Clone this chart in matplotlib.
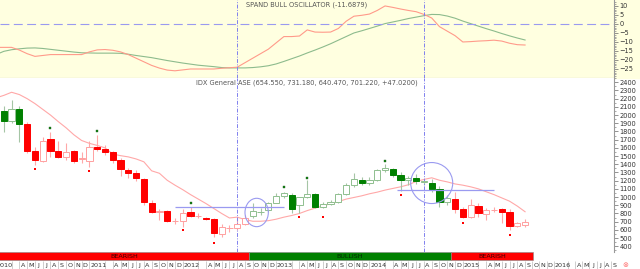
import numpy as np
import matplotlib.pyplot as plt
from matplotlib.patches import Ellipse, Rectangle

# monthly candles Jan 2010 .. Aug 2015 (plotted at month end)
opens  = [2054, 1928, 2074, 1891, 1562, 1440, 1708, 1566, 1492, 1562, 1470, 1440,
          1614, 1586, 1553, 1452, 1330, 1297, 1217, 931, 815, 830, 705, 708,
          821, 765, 748, 729, 549, 617, 619, 671, 773, 819, 842, 931,
          1013, 1025, 903, 997, 1037, 882, 915, 944, 1037, 1147, 1208, 1175,
          1208, 1330, 1342, 1270, 1210, 1230, 1187, 1175, 1095, 944, 973, 851,
          753, 891, 793, 842, 851, 821, 647, 655]
highs  = [2111, 2184, 2111, 1916, 1614, 1737, 1797, 1688, 1656, 1574, 1553, 1684,
          1757, 1635, 1560, 1473, 1351, 1330, 1229, 964, 851, 842, 741, 851,
          882, 802, 760, 741, 671, 659, 741, 781, 924, 863, 944, 1046,
          1066, 1046, 1005, 1207, 1046, 944, 964, 1046, 1168, 1290, 1241, 1241,
          1345, 1400, 1360, 1300, 1260, 1280, 1210, 1217, 1135, 1025, 1066, 882,
          973, 924, 863, 882, 863, 851, 700, 731]
lows   = [1797, 1900, 1675, 1537, 1391, 1428, 1492, 1476, 1452, 1415, 1419, 1370,
          1562, 1513, 1419, 1257, 1229, 1200, 903, 802, 720, 700, 671, 638,
          760, 741, 720, 509, 509, 577, 598, 659, 741, 781, 821, 924,
          985, 802, 802, 985, 863, 863, 903, 924, 1025, 1127, 1147, 1147,
          1190, 1300, 1240, 1080, 1150, 1160, 1150, 1066, 882, 903, 802, 741,
          741, 760, 720, 821, 680, 598, 638, 640]
closes = [1932, 2074, 1891, 1562, 1452, 1688, 1566, 1489, 1553, 1440, 1476, 1611,
          1586, 1546, 1452, 1339, 1297, 1229, 936, 821, 830, 708, 712, 809,
          773, 772, 729, 558, 638, 621, 671, 741, 834, 823, 931, 1013,
          1046, 851, 997, 1037, 882, 915, 944, 1037, 1147, 1217, 1175, 1208,
          1330, 1358, 1270, 1210, 1230, 1195, 1187, 1095, 944, 985, 851, 760,
          903, 802, 842, 842, 821, 647, 687, 701]
trend = "GGG" + "R" * 29 + "G" * 26 + "R" * 10

# moving average and oscillator, Dec 2009 .. Aug 2015
ma = [2210, 2240, 2278, 2250, 2200, 2140, 2070, 2000, 1920, 1845, 1760, 1690, 1655,
      1630, 1600, 1525, 1505, 1490, 1465, 1430, 1320, 1290, 1205, 1145, 1090,
      1030, 975, 920, 860, 800, 745, 755, 725, 705, 705, 712, 730,
      755, 775, 800, 835, 865, 890, 920, 945, 975, 995, 1015, 1040,
      1060, 1085, 1105, 1125, 1150, 1190, 1215, 1235, 1205, 1185, 1160, 1145,
      1125, 1100, 1065, 1030, 990, 950, 890, 821]
osc_fast = [-13, -13, -13, -14.5, -16.5, -18, -17.5, -17, -17, -17, -17, -17, -15.5,
            -14.4, -14.2, -14.6, -15.5, -17, -19, -21, -23, -24.5, -25.6, -26, -25.5,
            -25, -25, -25, -25, -24.6, -24.3, -24, -21.5, -19, -16.5, -14, -10.5,
            -7, -7, -6.7, -3.3, -4.5, -4.6, -4.5, -2.5, 1.5, 4.3, 4.8, 5.5,
            7.5, 10, 9.2, 8.3, 7.5, 6.8, 5.3, 3.3, -1.5, -4, -6.5, -10,
            -9.8, -9.5, -9.3, -9, -9.5, -10.7, -11.5, -11.69]
osc_slow = [-17, -15.2, -14.3, -13.8, -13.4, -13.3, -13.6, -14.1, -14.6, -15.1, -15.6, -16, -16.1,
            -16.2, -16.2, -16.2, -16.3, -16.8, -17.5, -18.1, -18.7, -19.5, -20.3, -21, -21.7,
            -22.3, -22.9, -23.3, -23.7, -24.2, -24.4, -24.4, -24.4, -24.2, -23.8, -23.2, -22.2,
            -20.8, -19.3, -17.8, -16.1, -14.5, -12.8, -11, -9, -7, -5, -3.8, -2.5,
            -1.2, 0.2, 1.1, 2, 3, 3.8, 4.6, 5.3, 5.2, 4.4, 3.2, 1.6,
            0.2, -1.2, -2.6, -3.9, -5.3, -6.6, -7.8, -8.9]

peak_idx = [6, 12, 24, 36, 39, 49]
peak_val = [1839, 1810, 924, 1119, 1236, 1440]
trough_idx = [4, 11, 23, 27, 38, 41, 51, 59, 65]
trough_val = [1342, 1321, 598, 445, 760, 760, 1025, 680, 537]

signals = [30, 54]
levels = [(22, 36, 878), (50.5, 63, 1092)]
circles = [(32.5, 812, 3.0, 346), (55.0, 1171, 5.4, 500)]
regimes = [("BEARISH", -1, 31.5, "#FF0000"), ("BULLISH", 31.5, 57.5, "#008000"),
           ("BEARISH", 57.5, 68.0, "#FF0000")]

n = len(closes)
xl = np.arange(-1, n)
XMIN, XMAX = -0.49, 78.43

fig = plt.figure(figsize=(6.4, 2.69), dpi=100)
# yellow band behind the oscillator, right margin included
fig.patches.append(Rectangle((0, 1 - 78 / 269), 1, 78 / 269, transform=fig.transFigure,
                             color="#FFFFE0", zorder=-10))
ax1 = fig.add_axes([0, 1 - 78 / 269, 614 / 640, 78 / 269])
ax2 = fig.add_axes([0, 17 / 269, 614 / 640, 174 / 269], sharex=ax1)
ax3 = fig.add_axes([0, 8.5 / 269, 614 / 640, 8.5 / 269], sharex=ax1)
ax4 = fig.add_axes([0, 0, 614 / 640, 8.5 / 269], sharex=ax1)

lav = "#9A9AF0"
grey = "#999999"

# oscillator
ax1.set_facecolor("#FFFFE0")
ax1.plot(xl, osc_slow, color="#8DBB8D", lw=0.8)
ax1.plot(xl, osc_fast, color="#FF9A8A", lw=0.8)
ax1.axhline(0, color=lav, lw=0.8, dashes=(8, 4))
ax1.set_ylim(-30, 13.3)
ax1.text(0.5, 0.94, "SPAND BULL OSCILLATOR (-11.6879)", transform=ax1.transAxes,
         ha="center", va="center", fontsize=4.8, color="#555555")

# price candles
for i in range(n):
    o, h, l, c = opens[i], highs[i], lows[i], closes[i]
    g = trend[i] == "G"
    wick = "#A5C5A5" if g else "#FFA8A8"
    if c < o:
        face = "#008000" if g else "#FF0000"
        edge = face
    else:
        face = "white"
        edge = "#8FBF8F" if g else "#FFA0A0"
    ax2.vlines(i, l, h, color=wick, lw=0.8, zorder=2)
    lo, hi = min(o, c), max(o, c)
    ax2.bar(i, max(hi - lo, 4), bottom=lo, width=0.8, color=face,
            edgecolor=edge, lw=0.7, zorder=3)

ax2.plot(xl, ma, color="#FFA8A8", lw=0.8, zorder=1)
ax2.plot(peak_idx, peak_val, "s", color="#008000", ms=1.8, mec="#336633", mew=0.3, zorder=4)
ax2.plot(trough_idx, trough_val, "s", color="#FF0000", ms=1.8, mew=0, zorder=4)
for x0, x1, lvl in levels:
    ax2.hlines(lvl, x0, x1, color=lav, lw=0.9, zorder=4)
for cx, cy, w, h in circles:
    ax2.add_patch(Ellipse((cx, cy), w, h, fill=False, ec=lav, lw=0.8, zorder=4))
ax2.set_ylim(330, 2452)
ax2.text(0.5, 0.97, "IDX General ASE (654.550, 731.180, 640.470, 701.220, +47.0200)",
         transform=ax2.transAxes, ha="center", va="center", fontsize=4.8, color="#555555")

for ax in (ax1, ax2):
    for s in ax.spines.values():
        s.set_visible(False)
    ax.spines["right"].set_visible(True)
    ax.spines["right"].set_color(grey)
    ax.yaxis.tick_right()
    ax.tick_params(axis="y", labelsize=4.8, length=3, width=0.5, color="#666666",
                   labelcolor="#333333", pad=1)
    ax.tick_params(axis="y", which="minor", length=1.5, width=0.5, color="#888888")
    ax.tick_params(axis="x", bottom=False, labelbottom=False)
    for sx in signals:
        ax.axvline(sx, color="#8080EE", lw=0.7, dashes=(4, 1.5, 1, 1.5))
ax1.spines["bottom"].set_visible(True)
ax1.spines["bottom"].set_color(grey)
ax1.set_yticks(np.arange(-25, 11, 5))
ax1.set_yticks(np.arange(-29, 13, 1), minor=True)
ax2.set_yticks(np.arange(400, 2401, 100))
ax2.set_yticks(np.arange(350, 2451, 50), minor=True)

# regime strip
ax3.axis("off")
ax3.set_ylim(0, 1)
for name, x0, x1, col in regimes:
    ax3.add_patch(Rectangle((x0, 0.05), x1 - x0, 0.9, color=col, ec="#888888", lw=0.4))
    ax3.text((max(x0, XMIN) + x1) / 2, 0.5, name, ha="center", va="center",
             fontsize=4.6, color="#3A0000" if col == "#FF0000" else "#002A00")

# month labels
ax4.axis("off")
ax4.set_ylim(0, 1)
letters = "JFMAMJJASOND"
for m in range(81):
    x = m - 1 if m <= 68 else 67 + (m - 68) * 0.92
    k = m % 12
    if k != 1:
        ax4.vlines(x, 0, 1, color="#BBBBBB", lw=0.5)
    if k == 0:
        ax4.text(x + 0.1, 0.45, str(2010 + m // 12), ha="left", va="center",
                 fontsize=4.6, color="#333333")
    elif k > 2:
        ax4.text(x + 0.46, 0.45, letters[k], ha="center", va="center",
                 fontsize=4.6, color="#333333")
fig.text(625 / 640, 0.5 * 8.5 / 269, "\u2297", ha="center", va="center",
         fontsize=5, color="#FF7070")

ax1.set_xlim(XMIN, XMAX)
fig.savefig("out.png", dpi=100)
